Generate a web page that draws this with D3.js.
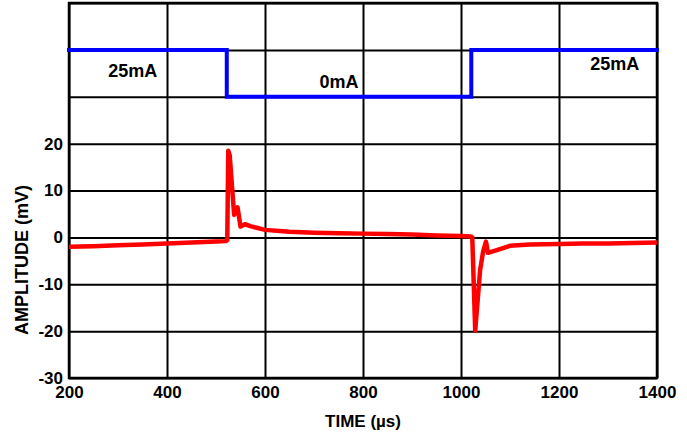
<!DOCTYPE html>
<html>
<head>
<meta charset="utf-8">
<script src="https://cdn.jsdelivr.net/npm/d3@7/dist/d3.min.js"></script>
<style>
  html, body { margin: 0; padding: 0; background: #fff; }
  svg { display: block; }
  text { font-family: "Liberation Sans", Arial, sans-serif; font-weight: bold; fill: #000; }
</style>
</head>
<body>
<svg id="chart" width="687" height="434"></svg>
<script>
// ---- data ----
const xTicks = [200, 400, 600, 800, 1000, 1200, 1400];
const yTickLabels = [-30, -20, -10, 0, 10, 20];
const yGrid = [-30, -20, -10, 0, 10, 20, 30, 40, 50];

const ampTime = [200, 250, 300, 350, 400, 450, 500, 520, 523, 525, 528, 537, 544, 550, 559, 570, 600, 650, 700, 750, 800, 850, 900, 950, 1000, 1020, 1023, 1029, 1039, 1045, 1051, 1055, 1073, 1100, 1140, 1200, 1250, 1300, 1350, 1400];
const ampValue = [-2.0, -1.9, -1.7, -1.5, -1.3, -1.1, -0.9, -0.8, -0.6, 18.5, 17.5, 4.8, 6.4, 2.3, 2.8, 2.4, 1.6, 1.2, 1.0, 0.9, 0.8, 0.7, 0.6, 0.4, 0.3, 0.2, 0.0, -19.9, -7.0, -3.1, -0.9, -3.3, -2.7, -1.8, -1.5, -1.4, -1.3, -1.3, -1.2, -1.1];

const currentTime = [200, 522, 522, 1021, 1021, 1400];
const currentMA = [25, 25, 0, 0, 25, 25];

const labelText = ["25mA", "0mA", "25mA"];
const labelTime = [330, 751, 1314];
const labelLevel = [35.7, 33.2, 37.0];

// ---- layout ----
const svg = d3.select("#chart");
const W = 687, H = 434;
const m = { left: 69, right: 30, top: 3, bottom: 56 };
const iw = W - m.left - m.right, ih = H - m.top - m.bottom;

const x = d3.scaleLinear().domain([200, 1400]).range([0, iw]);
const y = d3.scaleLinear().domain([-30, 50]).range([ih, 0]);
const cur = d3.scaleLinear().domain([0, 25]).range([y(30), y(40)]);

const g = svg.append("g").attr("transform", `translate(${m.left},${m.top})`);
const fmt = d => String(d);

// grid
const vg = g.append("g").call(d3.axisBottom(x).tickValues(xTicks).tickSize(ih).tickFormat(""));
vg.select(".domain").remove();
vg.selectAll("line").attr("stroke", "#000").attr("stroke-width", 2);

const hg = g.append("g").call(d3.axisLeft(y).tickValues(yGrid).tickSize(-iw).tickFormat(""));
hg.select(".domain").remove();
hg.selectAll("line").attr("stroke", "#000").attr("stroke-width", 2);

// border
g.append("rect").attr("x", 0).attr("y", 0).attr("width", iw).attr("height", ih)
  .attr("fill", "none").attr("stroke", "#000").attr("stroke-width", 2.5);

// tick labels
const xa = g.append("g").attr("transform", `translate(0,${ih})`)
  .call(d3.axisBottom(x).tickValues(xTicks).tickSize(0).tickPadding(8).tickFormat(fmt));
xa.select(".domain").remove();
xa.selectAll("text").attr("font-size", 17).attr("font-family", "Liberation Sans, Arial, sans-serif").attr("font-weight", "bold").attr("fill", "#000");

const ya = g.append("g")
  .call(d3.axisLeft(y).tickValues(yTickLabels).tickSize(0).tickPadding(6).tickFormat(fmt));
ya.select(".domain").remove();
ya.selectAll("text").attr("font-size", 17).attr("font-family", "Liberation Sans, Arial, sans-serif").attr("font-weight", "bold").attr("fill", "#000");

// current waveform (blue)
const curData = currentTime.map((t, i) => ({ t, v: currentMA[i] }));
g.append("path").datum(curData)
  .attr("fill", "none").attr("stroke", "#0000ff").attr("stroke-width", 4)
  .attr("stroke-linecap", "square").attr("stroke-linejoin", "miter")
  .attr("d", d3.line().x(d => x(d.t)).y(d => cur(d.v)));

// amplitude waveform (red)
const ampData = ampTime.map((t, i) => ({ t, v: ampValue[i] }));
g.append("path").datum(ampData)
  .attr("fill", "none").attr("stroke", "#ff0000").attr("stroke-width", 4.5)
  .attr("stroke-linejoin", "round").attr("stroke-linecap", "butt")
  .attr("d", d3.line().x(d => x(d.t)).y(d => y(d.v)));

// labels
labelText.forEach((s, i) => {
  g.append("text").attr("x", x(labelTime[i])).attr("y", y(labelLevel[i]))
    .attr("dy", "0.36em").attr("text-anchor", "middle").attr("font-size", 18).text(s);
});

// axis titles
svg.append("text").attr("x", m.left + iw / 2).attr("y", 421).attr("dy", "0.36em")
  .attr("text-anchor", "middle").attr("font-size", 17).text("TIME (µs)");
svg.append("text").attr("transform", "translate(22,260) rotate(-90)").attr("dy", "0.36em")
  .attr("text-anchor", "middle").attr("font-size", 18).text("AMPLITUDE (mV)");
</script>
</body>
</html>
